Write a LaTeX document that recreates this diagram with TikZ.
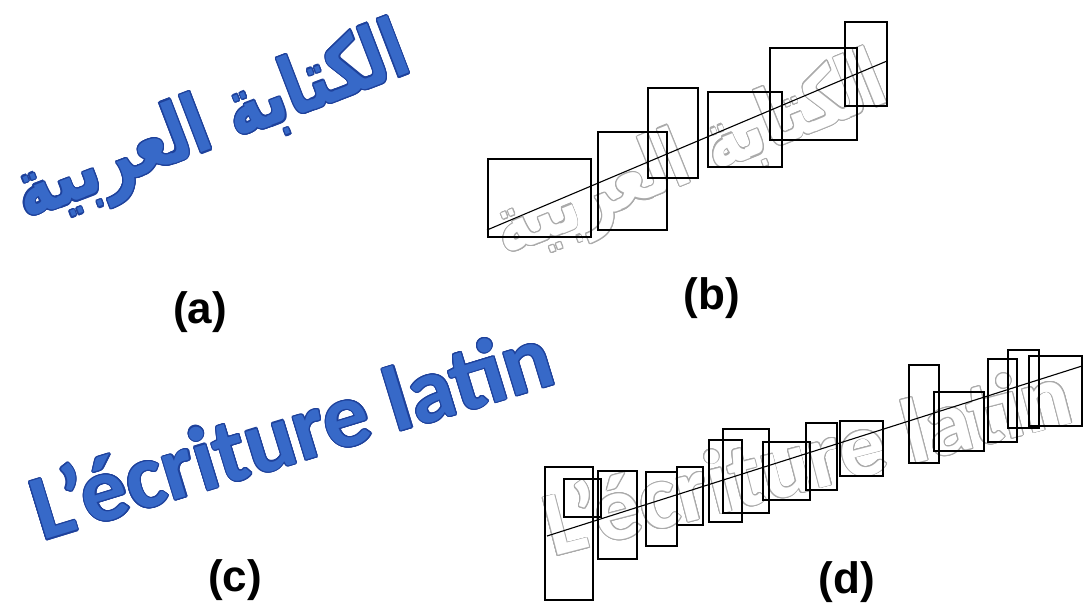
\documentclass[tikz,border=0pt]{standalone}
\usepackage{fontspec}
\setmainfont{Liberation Sans}
\newfontfamily\arabicfont[Script=Arabic]{DejaVu Sans}
\newfontfamily\calfont{Carlito}
\usepackage[copies]{contour}
\TeXXeTstate=1
\definecolor{txtblue}{RGB}{55,105,200}
\definecolor{edgeblue}{RGB}{30,65,155}
\definecolor{ghostgray}{RGB}{170,170,170}
\tikzset{
  box/.style={draw=black, line width=1.1pt},
  baseline line/.style={draw=black, line width=1.1pt},
  lbl/.style={font=\fontsize{44}{50}\selectfont\bfseries, inner sep=0pt},
  bigar/.style={font=\arabicfont\bfseries\fontsize{62}{70}\selectfont, inner sep=0pt},
  biglat/.style={font=\calfont\bfseries\fontsize{92}{100}\selectfont, inner sep=0pt}
}
\begin{document}
\begin{tikzpicture}[x=1pt,y=-1pt]
\useasboundingbox[fill=white] (0,0) rectangle (1084,608);

% (a) Arabic text
\node[bigar, rotate=21] (ar) at (213,127)
  {\scalebox{1}[1.3]{\contourlength{1.1pt}\contour{edgeblue}{\textcolor{txtblue}{\beginR الكتابة العربية\endR}}}};
% (c) Latin text
\node[biglat, rotate=17, anchor=base west] (lat) at (42,541)
  {\contourlength{1.1pt}\contour{edgeblue}{\textcolor{txtblue}{L’écriture latin}}};

% (b) ghost text
\node[bigar, rotate=22] (arg) at (691,160)
  {\scalebox{1}[1.3]{\contourlength{0.9pt}\contour{ghostgray}{\textcolor{white}{\beginR الكتابة العربية\endR}}}};
% (d) ghost text
\node[biglat, rotate=14.5, anchor=base west] (latg) at (553,557)
  {\contourlength{0.9pt}\contour{ghostgray}{\textcolor{white}{L’écriture latin}}};

% (b) boxes
\draw[box] (488,159) rectangle (591,237);
\draw[box] (598,132) rectangle (667,230);
\draw[box] (648,88) rectangle (698,178);
\draw[box] (708,92) rectangle (782,167);
\draw[box] (770,48) rectangle (857,140);
\draw[box] (845,22) rectangle (887,106);
\coordinate (b0) at (487,230);
\coordinate (b1) at (887,61);
\draw[baseline line] (b0) -- (b1);

% (d) boxes
\draw[box] (545,467) rectangle (593,600);
\draw[box] (564,479) rectangle (601,517);
\draw[box] (598,471) rectangle (637,559);
\draw[box] (646,472) rectangle (677,546);
\draw[box] (677,467) rectangle (703,525);
\draw[box] (709,440) rectangle (742,522);
\draw[box] (723,429) rectangle (769,513);
\draw[box] (763,442) rectangle (810,500);
\draw[box] (806,423) rectangle (837,490);
\draw[box] (840,421) rectangle (883,476);
\draw[box] (909,365) rectangle (939,463);
\draw[box] (934,392) rectangle (984,451);
\draw[box] (988,359) rectangle (1017,442);
\draw[box] (1008,350) rectangle (1039,428);
\draw[box] (1029,356) rectangle (1082,426);
\coordinate (d0) at (547,536);
\coordinate (d1) at (1082,366);
\draw[baseline line] (d0) -- (d1);

% labels
\node[lbl] (la) at (200,312) {(a)};
\node[lbl] (lb) at (712,298) {(b)};
\node[lbl] (lc) at (235,580) {(c)};
\node[lbl] (ld) at (847,582) {(d)};
\end{tikzpicture}
\end{document}
